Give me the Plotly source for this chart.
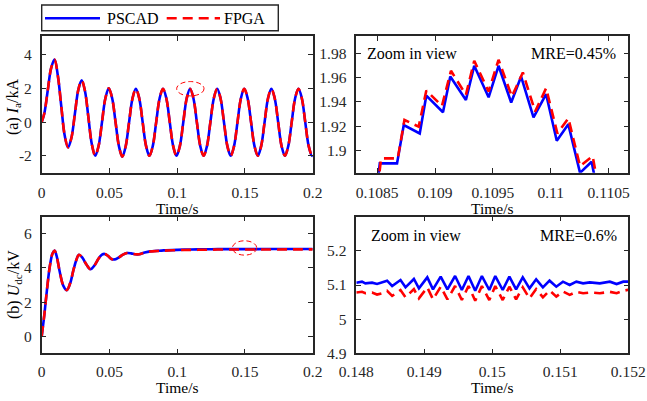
import plotly.graph_objects as go

W, H = 647, 401

# ---------------- data ----------------
# (a) full view, phase current Ia (kA)
t_ia = [0.0] + [round(0.002 + 0.0025 * k, 4) for k in range(80)] + [0.2]
pscad_ia = [0.00, 0.54, 1.90, 3.21, 3.70, 2.70, 0.90, -0.81, -1.50, -0.91, 0.50, 1.91, 2.48, 1.81,
            0.25, -1.31, -2.00, -1.41, 0.00, 1.41, 2.00, 1.41, 0.00, -1.43, -2.05, -1.43, 0.00, 1.40, 1.97,
            1.40, 0.00, -1.41, -2.00, -1.41, 0.00, 1.40, 1.97,
            1.40, 0.00, -1.41, -2.00, -1.41, 0.00, 1.40, 1.97,
            1.40, 0.00, -1.41, -2.00, -1.41, 0.00, 1.40, 1.97,
            1.40, 0.00, -1.41, -2.00, -1.41, 0.00, 1.40, 1.97,
            1.40, 0.00, -1.41, -2.00, -1.41, 0.00, 1.40, 1.97,
            1.40, 0.00, -1.41, -2.00, -1.41, 0.00, 1.40, 1.97,
            1.40, 0.00, -1.41, -2.00,
            -1.97]
fpga_ia = list(pscad_ia)

# (a) zoom view
t_ia_zoom_pscad = [0.1085, 0.108523, 0.108672, 0.10873, 0.108868, 0.108925, 0.109069, 0.109132, 0.109267,
                   0.109339, 0.109463, 0.109549, 0.109658, 0.109744, 0.109851, 0.10996, 0.110052, 0.110152,
                   0.110253, 0.110353, 0.110397]
ia_zoom_pscad = [1.870, 1.8896, 1.8896, 1.9211, 1.9142, 1.9452, 1.9315, 1.9608, 1.9416, 1.9696, 1.9438,
                 1.9696, 1.9395, 1.9608, 1.9274, 1.9463, 1.9082, 1.9216, 1.8819, 1.891, 1.870]
t_ia_zoom_fpga = [0.108506, 0.108534, 0.108678, 0.108736, 0.108859, 0.108925, 0.10906, 0.109138, 0.109267,
                  0.109339, 0.109463, 0.109549, 0.109664, 0.109759, 0.109865, 0.10996, 0.110057, 0.110152,
                  0.110253, 0.110362, 0.110411]
ia_zoom_fpga = [1.870, 1.8937, 1.8937, 1.9252, 1.9197, 1.9493, 1.9367, 1.9655, 1.9458, 1.9737, 1.9485,
                1.9745, 1.9444, 1.9641, 1.9321, 1.9512, 1.9142, 1.9266, 1.8874, 1.8956, 1.870]

# (b) full view, DC voltage Udc (kV)
t_udc = [0, 0.002, 0.004, 0.006, 0.008, 0.0095, 0.011, 0.0135, 0.016, 0.0185, 0.021, 0.0235, 0.0255,
         0.0275, 0.030, 0.033, 0.036, 0.039, 0.042, 0.0445, 0.0465, 0.049, 0.0515, 0.054, 0.057, 0.060,
         0.063, 0.066, 0.069, 0.072, 0.076, 0.080, 0.085, 0.090, 0.100, 0.110, 0.120, 0.130, 0.140, 0.150,
         0.160, 0.170, 0.180, 0.190, 0.200]
pscad_udc = [0, 1.3, 2.8, 4.1, 4.85, 5.02, 4.7, 3.7, 2.95, 2.7, 3.1, 3.9, 4.45, 4.77, 4.6, 4.2, 3.92,
             4.15, 4.55, 4.78, 4.82, 4.7, 4.52, 4.5, 4.62, 4.78, 4.87, 4.85, 4.8, 4.8, 4.9, 4.97, 5.0,
             5.03, 5.06, 5.08, 5.09, 5.1, 5.1, 5.1, 5.1, 5.11, 5.11, 5.11, 5.11]
fpga_udc = [0, 1.3, 2.8, 4.1, 4.85, 5.02, 4.7, 3.7, 2.95, 2.7, 3.1, 3.9, 4.45, 4.77, 4.6, 4.2, 3.92,
            4.15, 4.55, 4.78, 4.82, 4.7, 4.52, 4.5, 4.62, 4.78, 4.87, 4.85, 4.8, 4.8, 4.9, 4.96, 4.99,
            5.01, 5.04, 5.055, 5.065, 5.075, 5.075, 5.08, 5.08, 5.08, 5.085, 5.085, 5.085]

# (b) zoom view
t_udc_zoom = [0.148, 0.148084, 0.148133, 0.148232, 0.148305, 0.148379, 0.148453, 0.148527, 0.14865,
              0.148724, 0.148847, 0.148921, 0.149044, 0.149128, 0.149241, 0.14934, 0.149453, 0.149552,
              0.14965, 0.149749, 0.149847, 0.149956, 0.150044, 0.150153, 0.150251, 0.15035, 0.150448,
              0.150547, 0.150645, 0.150744, 0.150842, 0.150941, 0.151039, 0.151138, 0.151236, 0.151335,
              0.151433, 0.151581, 0.151729, 0.151828, 0.151926, 0.152]
udc_zoom_pscad = [5.1068, 5.1098, 5.1049, 5.1068, 5.1029, 5.1068, 5.1127, 5.0971, 5.1146, 5.0932, 5.1176,
                  5.0902, 5.1224, 5.0873, 5.1244, 5.0873, 5.1263, 5.0854, 5.1263, 5.0834, 5.1263, 5.0854,
                  5.1263, 5.0854, 5.1244, 5.0873, 5.1224, 5.0902, 5.1166, 5.0932, 5.1127, 5.0951, 5.1098,
                  5.1000, 5.1098, 5.1049, 5.1078, 5.1049, 5.1098, 5.1029, 5.1098, 5.1098]
udc_zoom_fpga = [5.078, 5.080, 5.076, 5.078, 5.072, 5.076, 5.083, 5.068, 5.085, 5.064, 5.088, 5.061,
                 5.093, 5.058, 5.095, 5.058, 5.097, 5.056, 5.097, 5.054, 5.097, 5.056, 5.097, 5.056,
                 5.095, 5.058, 5.093, 5.061, 5.088, 5.064, 5.084, 5.066, 5.081, 5.071, 5.080, 5.076,
                 5.078, 5.076, 5.080, 5.076, 5.083, 5.086]

x_full_ticks = [0, 0.05, 0.1, 0.15, 0.2]
x_full_text = ["0", "0.05", "0.1", "0.15", "0.2"]
xa_zoom_ticks = [0.1085, 0.109, 0.1095, 0.11, 0.1105]
xa_zoom_text = ["0.1085", "0.109", "0.1095", "0.11", "0.1105"]
ya_zoom_ticks = [1.9, 1.92, 1.94, 1.96, 1.98]
ya_zoom_text = ["1.9", "1.92", "1.94", "1.96", "1.98"]
xb_zoom_ticks = [0.148, 0.149, 0.15, 0.151, 0.152]
xb_zoom_text = ["0.148", "0.149", "0.15", "0.151", "0.152"]
yb_zoom_ticks = [4.9, 5.0, 5.1, 5.2]
yb_zoom_text = ["4.9", "5", "5.1", "5.2"]

# ---------------- style ----------------
FONT = "Liberation Serif"
INK = "#262626"
BLUE = "#0000ff"
RED = "#ff0000"
DASH = "10px,6px"


def px(x):
    return x / W


def py(y):
    return 1 - y / H


fig = go.Figure()


def add_pair(tb, vb, tr, vr, xa, ya, shape):
    fig.add_trace(go.Scatter(x=tb, y=vb, xaxis=xa, yaxis=ya, mode="lines", showlegend=False,
                             line=dict(color=BLUE, width=2.6, shape=shape)))
    fig.add_trace(go.Scatter(x=tr, y=vr, xaxis=xa, yaxis=ya, mode="lines", showlegend=False,
                             line=dict(color=RED, width=2.6, dash=DASH, shape=shape)))


add_pair(t_ia, pscad_ia, t_ia, fpga_ia, "x", "y", "spline")
add_pair(t_ia_zoom_pscad, ia_zoom_pscad, t_ia_zoom_fpga, ia_zoom_fpga, "x2", "y2", "linear")
add_pair(t_udc, pscad_udc, t_udc, fpga_udc, "x3", "y3", "spline")
add_pair(t_udc_zoom, udc_zoom_pscad, t_udc_zoom, udc_zoom_fpga, "x4", "y4", "linear")

ax = dict(showline=True, linecolor=INK, linewidth=1.5, mirror="ticks", ticks="inside", ticklen=5,
          tickwidth=1.3, tickcolor=INK, showgrid=False, zeroline=False, automargin=False,
          tickfont=dict(family=FONT, size=15.5, color=INK))

xl = [px(41.7), px(312.7)]
xr = [px(356.3), px(628.3)]
ytop = [py(172.7), py(36)]
ybot = [py(353.3), py(216.7)]

fig.update_layout(
    template="none",
    width=W, height=H, margin=dict(l=0, r=0, t=0, b=0, pad=0),
    paper_bgcolor="white", plot_bgcolor="white", showlegend=False,
    font=dict(family=FONT, size=16, color=INK),
    xaxis=dict(ax, domain=xl, anchor="y", range=[0, 0.2], tickvals=x_full_ticks, ticktext=x_full_text,
               ticklabelstandoff=5),
    yaxis=dict(ax, domain=ytop, anchor="x", range=[-3, 5.1], tickvals=[-2, 0, 2, 4], ticktext=["-2", "0", "2", "4"],
               ticklabelstandoff=5),
    xaxis2=dict(ax, domain=xr, anchor="y2", range=[0.10832, 0.11067], tickvals=xa_zoom_ticks, ticktext=xa_zoom_text,
                ticklabelstandoff=5),
    yaxis2=dict(ax, domain=ytop, anchor="x2", range=[1.882, 1.994], tickvals=ya_zoom_ticks, ticktext=ya_zoom_text,
                ticklabelstandoff=5),
    xaxis3=dict(ax, domain=xl, anchor="y3", range=[0, 0.2], tickvals=x_full_ticks, ticktext=x_full_text,
                ticklabelstandoff=3),
    yaxis3=dict(ax, domain=ybot, anchor="x3", range=[-1, 7], tickvals=[0, 2, 4, 6], ticktext=["0", "2", "4", "6"],
                ticklabelstandoff=5),
    xaxis4=dict(ax, domain=xr, anchor="y4", range=[0.148, 0.152], tickvals=xb_zoom_ticks, ticktext=xb_zoom_text,
                ticklabelstandoff=3),
    yaxis4=dict(ax, domain=ybot, anchor="x4", range=[4.9, 5.3], tickvals=yb_zoom_ticks, ticktext=yb_zoom_text,
                ticklabelstandoff=5),
)

shapes = [
    # dashed ellipses marking the zoomed regions
    dict(type="circle", xref="x", yref="y", x0=0.0996, x1=0.1198, y0=1.55, y1=2.40,
         line=dict(color=RED, width=1, dash="5px,3px")),
    dict(type="circle", xref="x3", yref="y3", x0=0.1407, x1=0.1587, y0=4.75, y1=5.59,
         line=dict(color=RED, width=1, dash="5px,3px")),
    # legend box
    dict(type="rect", xref="paper", yref="paper", x0=px(41.7), x1=px(278.3), y0=py(30.7), y1=py(5),
         line=dict(color=INK, width=1.4), fillcolor="white"),
    dict(type="line", xref="paper", yref="paper", x0=px(45), x1=px(100), y0=py(18.3), y1=py(18.3),
         line=dict(color=BLUE, width=2.6)),
    dict(type="line", xref="paper", yref="paper", x0=px(166.7), x1=px(220), y0=py(18.3), y1=py(18.3),
         line=dict(color=RED, width=2.6, dash=DASH)),
]

tf = dict(family=FONT, size=16, color="black")
tf_time = dict(family=FONT, size=15.5, color="black")
annotations = [
    dict(text="PSCAD", x=px(105), y=py(18.3), xanchor="left", yanchor="middle"),
    dict(text="FPGA", x=px(222), y=py(18.3), xanchor="left", yanchor="middle"),
    dict(text="Zoom in view", x=px(365), y=py(53.3), xanchor="left", yanchor="middle"),
    dict(text="MRE=0.45%", x=px(618), y=py(53.3), xanchor="right", yanchor="middle"),
    dict(text="Zoom in view", x=px(368.5), y=py(235), xanchor="left", yanchor="middle"),
    dict(text="MRE=0.6%", x=px(618.5), y=py(235), xanchor="right", yanchor="middle"),
    dict(text="(a) <i>I</i><sub>a</sub>/kA", x=px(14), y=py(107), xanchor="center", yanchor="middle",
         textangle=-90),
    dict(text="(b) <i>U</i><sub>dc</sub>/kV", x=px(14), y=py(285), xanchor="center", yanchor="middle",
         textangle=-90),
]
for a in annotations:
    a["font"] = tf
time_labels = [
    dict(text="Time/s", x=px(177.2), y=py(208.5), xanchor="center", yanchor="middle"),
    dict(text="Time/s", x=px(492.3), y=py(208.5), xanchor="center", yanchor="middle"),
    dict(text="Time/s", x=px(177.2), y=py(387), xanchor="center", yanchor="middle"),
    dict(text="Time/s", x=px(492.3), y=py(387), xanchor="center", yanchor="middle"),
]
for a in time_labels:
    a["font"] = tf_time
annotations = annotations + time_labels
for a in annotations:
    a.update(xref="paper", yref="paper", showarrow=False)

fig.update_layout(shapes=shapes, annotations=annotations)
fig.write_html("out.html")
